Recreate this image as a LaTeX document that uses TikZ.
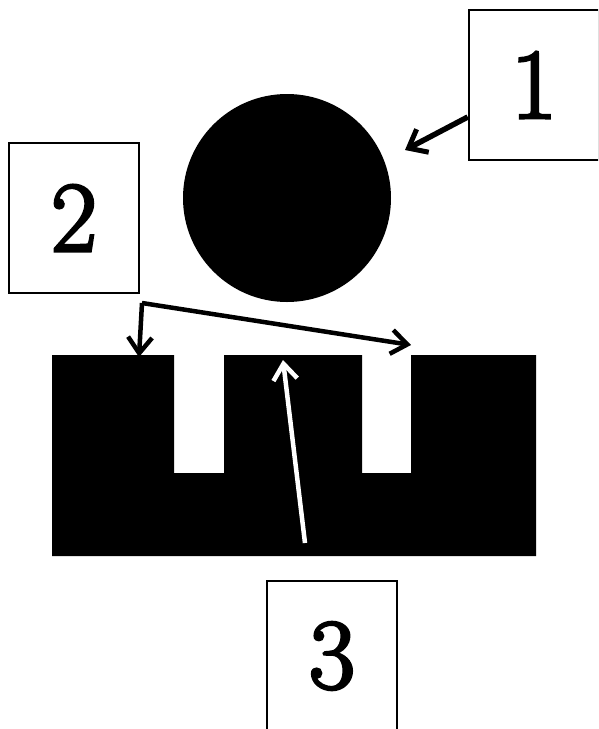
\documentclass[tikz,border=0pt]{standalone}
\usepackage{fontspec}
\usetikzlibrary{arrows.meta}
\newfontfamily\numfont[FakeBold=3]{Latin Modern Roman}
\tikzset{
  numbox/.style={draw, line width=2.5pt, minimum width=130pt, minimum height=150pt,
    inner sep=0pt, font=\numfont\fontsize{100}{100}\selectfont},
  pointer/.style={line width=5.5pt, -{Straight Barb[length=16pt,width=26pt,line width=5pt]}},
  thinpointer/.style={line width=4.5pt, line join=round,
    -{Straight Barb[length=16pt,width=24pt,line width=4.5pt]}},
}
\begin{document}
\begin{tikzpicture}[x=1pt,y=-1pt]
\useasboundingbox (0,0) rectangle (598,729);
\clip (0,0) rectangle (598,729);

% ball
\fill[black] (287,198) circle (104pt);
\coordinate (ballrim) at (405,150);

% slotted block
\fill[black] (52,355) -- (174,355) -- (174,473) -- (224,473) -- (224,355)
  -- (362,355) -- (362,473) -- (411,473) -- (411,355) -- (536,355)
  -- (536,556) -- (52,556) -- cycle;
\coordinate (leftland) at (139,357);
\coordinate (rightslot) at (411,345);
\coordinate (midland) at (283,360);
\coordinate (inside) at (305,543);

% numbered labels
\node[numbox] (box1) at (534,85) {1};
\node[numbox] (box2) at (74,218) {2};
\node[numbox] (box3) at (332,656) {3};

% connectors
\draw[pointer] ([yshift=-32pt]box1.west) -- (ballrim);
\coordinate (fork) at (142,303);
\draw[thinpointer] (fork) -- (leftland);
\draw[thinpointer] (fork) -- (rightslot);
\draw[thinpointer, white] (inside) -- (midland);
\end{tikzpicture}
\end{document}
